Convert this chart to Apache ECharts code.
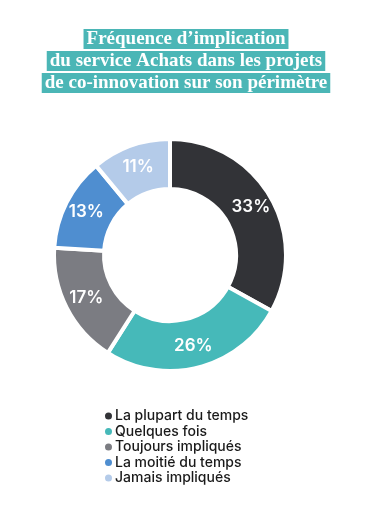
<!DOCTYPE html>
<html>
<head>
<meta charset="utf-8">
<script src="https://cdn.jsdelivr.net/npm/echarts@6/dist/echarts.min.js"></script>
<style>
  html, body { margin: 0; padding: 0; background: #fff; }
  #chart { width: 372px; height: 509px; }
</style>
</head>
<body>
<div id="chart"></div>
<script>
const titleLines = ['Fréquence d’implication', 'du service Achats dans les projets', 'de co-innovation sur son périmètre']
const categories = ['La plupart du temps', 'Quelques fois', 'Toujours impliqués', 'La moitié du temps', 'Jamais impliqués']
const values = [33, 26, 17, 13, 11]
const colors = ['#323337', '#46b9b9', '#7b7c82', '#4f8ed0', '#b4cbe9']

const chart = echarts.init(document.getElementById('chart'))
chart.setOption({
  animation: false,
  color: colors,
  title: {
    left: 'center',
    top: 23,
    text: titleLines.map(t => '{a|' + t + '}').join('\n'),
    textStyle: {
      rich: {
        a: {
          fontFamily: 'Liberation Serif',
          fontWeight: 'bold',
          fontSize: 19,
          color: '#fff',
          backgroundColor: '#4bb6b6',
          padding: [0, 3, 0, 3],
          height: 20,
          lineHeight: 22,
          align: 'center',
        },
      },
    },
  },
  legend: {
    orient: 'vertical',
    left: 98,
    top: 404,
    icon: 'circle',
    itemWidth: 9,
    itemHeight: 9,
    itemGap: 1.5,
    textStyle: {
      fontFamily: 'Inter',
      fontSize: 14,
      fontWeight: 500,
      lineHeight: 14,
      color: '#1a1a1a',
      padding: [0, 0, 0, -3],
    },
    data: categories,
  },
  series: [
    {
      type: 'pie',
      center: [170, 255],
      radius: [66, 116],
      startAngle: 90,
      clockwise: true,
      itemStyle: {
        borderColor: '#fff',
        borderWidth: 4,
      },
      label: {
        position: 'inside',
        formatter: '{c}%',
        fontFamily: 'Inter',
        fontSize: 17,
        fontWeight: 600,
        color: '#fff',
      },
      labelLine: { show: false },
      data: categories.map((name, i) => ({ name, value: values[i] })),
    },
  ],
})
</script>
</body>
</html>
